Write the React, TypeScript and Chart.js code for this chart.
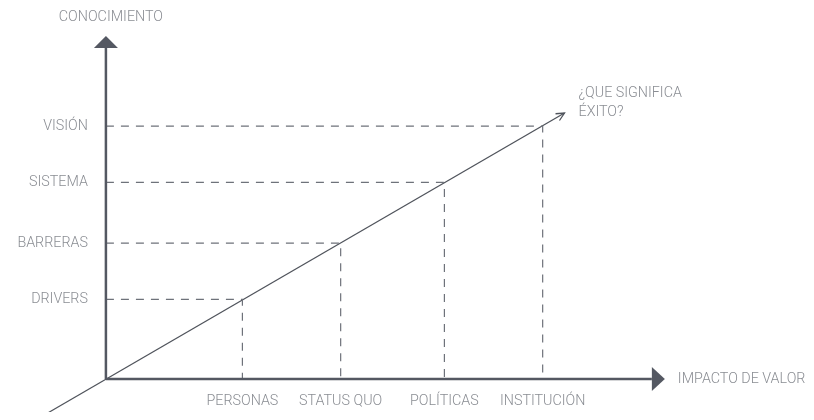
import React, { useEffect, useRef } from "react";
import { Chart, registerables } from "chart.js";

Chart.register(...registerables);

// Categories on each axis and their positions (axis units)
const xCategories = ["PERSONAS", "STATUS QUO", "POLÍTICAS", "INSTITUCIÓN"];
const xValues = [2.5, 4.3, 6.2, 8.0];
const yCategories = ["DRIVERS", "BARRERAS", "SISTEMA", "VISIÓN"];
const yValues = [1.46, 2.49, 3.6, 4.63];

// Diagonal trend line (start / end in axis units)
const trendX = [-1.2, 8.4];
const trendY = [-0.7, 4.87];

// Axis extents
const xAxisEnd = 10;
const yAxisEnd = 6.06;
const xTitle = "IMPACTO DE VALOR";
const yTitle = "CONOCIMIENTO";
const endLabel = ["¿QUE SIGNIFICA", "ÉXITO?"];

const AXIS_COLOR = "#545862";
const TEXT_COLOR = "#8a8d93";
const DASH_COLOR = "#6e727a";
const LINE_COLOR = "#50545c";
const FONT = "300 14.3px Roboto, 'Open Sans', sans-serif";

const overlay = {
  id: "overlay",
  afterDatasetsDraw(chart: any) {
    const { ctx, scales } = chart;
    const xs = scales.x;
    const ys = scales.y;
    const px = (v: number) => xs.getPixelForValue(v);
    const py = (v: number) => ys.getPixelForValue(v);
    const ox = px(0);
    const oy = py(0);
    ctx.save();
    // axes
    ctx.strokeStyle = AXIS_COLOR;
    ctx.fillStyle = AXIS_COLOR;
    ctx.lineWidth = 2.5;
    ctx.beginPath();
    ctx.moveTo(ox, oy);
    ctx.lineTo(px(xAxisEnd), oy);
    ctx.moveTo(ox, oy);
    ctx.lineTo(ox, py(yAxisEnd));
    ctx.stroke();
    // x arrow
    const xe = px(xAxisEnd);
    ctx.beginPath();
    ctx.moveTo(xe, oy - 12);
    ctx.lineTo(xe + 13, oy);
    ctx.lineTo(xe, oy + 12);
    ctx.closePath();
    ctx.fill();
    // y arrow
    const ye = py(yAxisEnd);
    ctx.beginPath();
    ctx.moveTo(ox - 12, ye);
    ctx.lineTo(ox, ye - 12);
    ctx.lineTo(ox + 12, ye);
    ctx.closePath();
    ctx.fill();
    // trend arrow head (open)
    const x1 = px(trendX[0]), y1 = py(trendY[0]);
    const x2 = px(trendX[1]), y2 = py(trendY[1]);
    const ang = Math.atan2(y2 - y1, x2 - x1);
    const len = 9;
    ctx.strokeStyle = LINE_COLOR;
    ctx.lineWidth = 1.3;
    ctx.beginPath();
    ctx.moveTo(x2 - len * Math.cos(ang - 0.45), y2 - len * Math.sin(ang - 0.45));
    ctx.lineTo(x2, y2);
    ctx.lineTo(x2 - len * Math.cos(ang + 0.45), y2 - len * Math.sin(ang + 0.45));
    ctx.stroke();
    // labels
    ctx.font = FONT;
    ctx.fillStyle = TEXT_COLOR;
    ctx.textBaseline = "middle";
    ctx.textAlign = "right";
    yCategories.forEach((c, i) => ctx.fillText(c, ox - 18, py(yValues[i])));
    ctx.textAlign = "center";
    xCategories.forEach((c, i) => ctx.fillText(c, px(xValues[i]), oy + 22));
    ctx.fillText(yTitle, ox + 5, 17);
    ctx.textAlign = "left";
    ctx.fillText(xTitle, xe + 26, oy);
    endLabel.forEach((t, i) => ctx.fillText(t, x2 + 14, y2 - 20 + i * 19));
    ctx.restore();
  },
};

export default function App() {
  const ref = useRef<HTMLCanvasElement | null>(null);
  useEffect(() => {
    if (!ref.current) return;
    const dashSets = xValues.map((xv, i) => ({
      type: "line" as const,
      data: [
        { x: 0, y: yValues[i] },
        { x: xv, y: yValues[i] },
        { x: xv, y: 0 },
      ],
      borderColor: DASH_COLOR,
      borderWidth: 1.2,
      borderDash: [8, 7],
      pointRadius: 0,
      fill: false,
      tension: 0,
    }));
    const chart = new Chart(ref.current, {
      type: "scatter",
      data: {
        datasets: [
          ...dashSets,
          {
            type: "line" as const,
            data: [
              { x: trendX[0], y: trendY[0] },
              { x: trendX[1], y: trendY[1] },
            ],
            borderColor: LINE_COLOR,
            borderWidth: 1.3,
            pointRadius: 0,
            fill: false,
          },
        ],
      } as any,
      options: {
        animation: false,
        responsive: true,
        maintainAspectRatio: false,
        layout: { padding: 0, autoPadding: false },
        plugins: { legend: { display: false }, tooltip: { enabled: false } },
        events: [],
        scales: {
          x: { type: "linear", min: -1.94, max: 12.97, display: false },
          y: { type: "linear", min: -0.75, max: 6.94, display: false },
        },
      },
      plugins: [overlay],
    });
    return () => chart.destroy();
  }, []);
  return (
    <div style={{ margin: -8, width: 814, height: 420, position: "relative", background: "#fff" }}>
      <canvas ref={ref} />
    </div>
  );
}
